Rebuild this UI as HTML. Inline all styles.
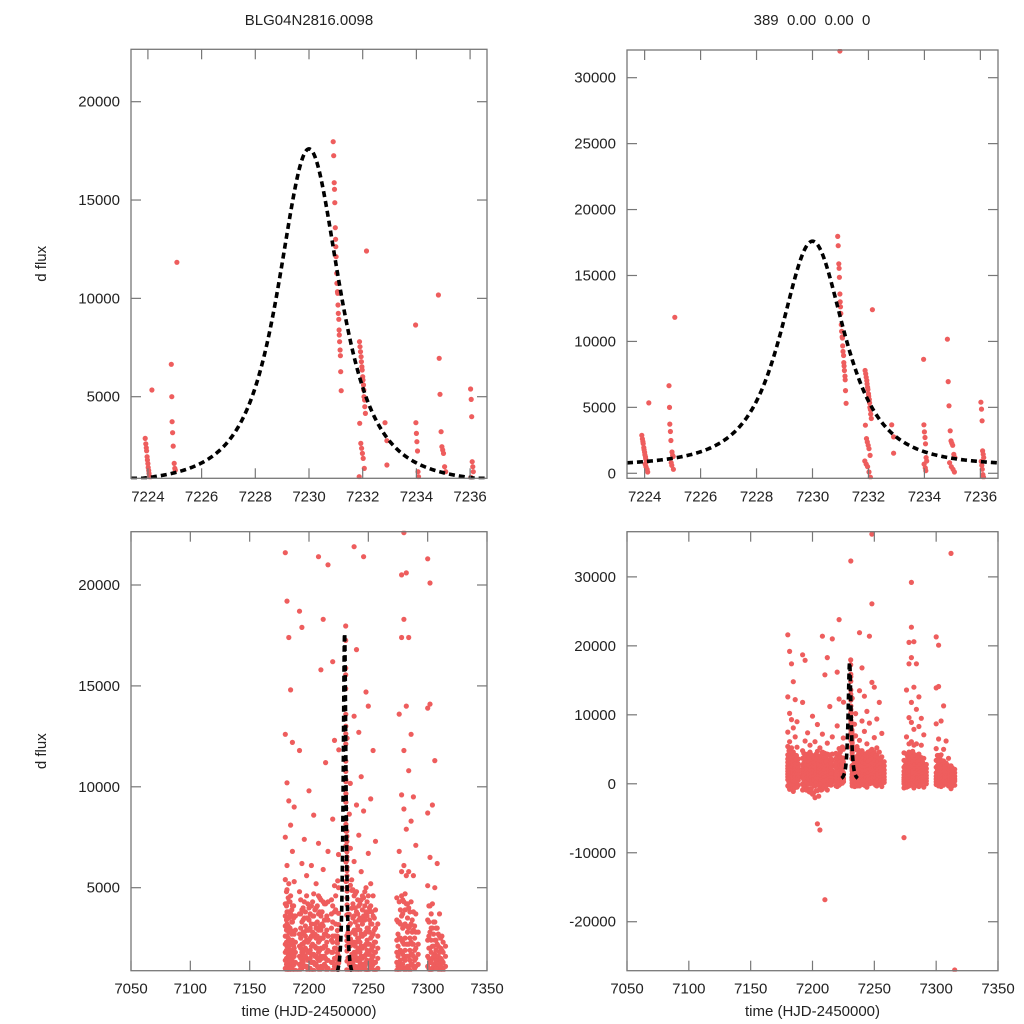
<!DOCTYPE html>
<html><head><meta charset="utf-8">
<style>
html,body{margin:0;padding:0;background:#fff;}
svg{display:block;font-family:"Liberation Sans",Arial,sans-serif;}
</style></head>
<body>
<svg id="fig" width="1024" height="1024" viewBox="0 0 1024 1024" xmlns="http://www.w3.org/2000/svg">
<rect width="1024" height="1024" fill="#fff"/>
<text x="309" y="25" font-size="15" text-anchor="middle" fill="#222">BLG04N2816.0098</text>
<text x="812" y="25" font-size="15" text-anchor="middle" fill="#222" xml:space="preserve">389  0.00  0.00  0</text>
</svg>
<script>
// ---- event-season data (time, flux) ----
const evT = [
7223.90,7223.92,7223.94,7223.95,7223.97,7223.98,7224.00,7224.01,7224.03,7224.04,7224.06,7224.08,7224.15,7224.02,7224.05,7224.09,7224.11,
7224.87,7224.89,7224.90,7224.92,7224.94,7224.98,7225.00,7225.08,7225.02,7224.95,7224.97,7225.03,
7230.98,
7230.90,7230.92,7230.94,7230.95,7230.96,7230.98,7230.99,7231.00,7231.01,7231.03,7231.04,7231.06,7231.07,7231.08,7231.09,7231.11,7231.12,7231.13,7231.14,7231.16,7231.17,7231.18,7231.20,
7232.14,
7231.88,7231.90,7231.92,7231.94,7231.95,7231.97,7231.98,7232.00,7232.01,7232.03,7232.04,7232.05,7232.07,7232.08,7232.10,7231.89,7231.93,7231.96,7231.99,7232.02,7232.06,7231.87,7231.92,7231.97,7232.02,7232.07,
7232.83,7232.90,7232.90,
7233.97,7233.98,7234.00,7234.02,7234.04,7234.06,7234.08,7233.99,7234.03,7234.05,7234.10,
7234.82,7234.85,7234.88,7234.92,7234.95,7234.98,7235.01,7235.05,7235.09,7234.90,7234.96,7235.02,7235.07,
7236.02,7236.04,7236.06,7236.08,7236.10,7236.12,7236.03,7236.05,7236.07,7236.09,7236.11
];
const evF = [
2880,2600,2400,2250,1950,1780,1600,1400,1250,1100,950,900,5340,700,500,300,100,
6645,5000,3730,3170,2490,1611,1360,11832,1270,800,600,300,
32300,
17968,17256,15883,15544,14866,13595,13001,12628,12120,11272,10764,10340,10256,9662,9238,8933,8391,8137,7798,7374,7086,6272,5306,
12408,
7798,7544,7290,7035,6781,6527,6357,6018,5849,5594,5340,5000,4831,4492,4153,3645,2628,2374,2119,1865,1356,933,700,500,100,-300,
3679,2763,1526,
8645,3679,3136,2712,2238,1188,933,700,400,200,-400,
10170,6950,5120,3222,2458,2289,2119,1441,1188,800,500,300,100,
5390,4865,3984,1696,1441,1188,900,600,300,-100,-300
];
// ---- full-season nightly data ----
const nightT = [7180,7181.5,7183,7184.5,7186,7187.5,7192,7194,7196,7198,7200,7202,7204,7206,7208,7210,7212,7214,7216,7220,7221.5,
7238,7240,7242,7244,7246,7248,7250,7252,7254,7256,
7274,7276,7278,7280,7282,7284,7286,7288,7290,7300,7302,7304,7306,7308,7310,7312,7315];
const nightF = [
[21600,12600,7500,5400,4200,3600,3100,2600,2200,1800,1400,1000,600,-300],
[19200,10200,6100,4900,3800,3200,2600,2100,1800,1300,900,200,-800],
[17400,9300,5200,4300,3500,2800,2100,1700,1300,900,500,-600],
[14800,8100,4600,3700,2900,2300,1700,1300,1000,600,100,-1100],
[12200,6800,4100,3300,2400,1900,1500,1100,700,-200],
[9000,5300,3600,2700,2000,1600,1200,800,400,-500],
[18700,11800,4800,3700,2700,2100,1600,1200,900,0,-900],
[17900,6200,3900,3300,2700,2200,1800,1300,1000,600,-400],
[7400,4300,3500,2800,2300,1900,1500,1100,300,-700],
[5600,4600,3500,2900,2400,1900,1500,1100,800,0,-1200],
[9800,4000,3400,2900,2400,1800,1400,1000,200,-1500],
[6100,4100,3200,2600,2100,1700,1300,900,500,-300,-2000],
[8600,4700,3600,2600,2100,1700,1300,900,100,-1000,-5800],
[5200,4000,3000,2500,2000,1600,1200,800,400,-600,-6700],
[21400,7200,4600,3700,2900,2300,1800,1400,1000,600,-800],
[15800,4400,3600,2900,2500,2000,1600,1100,700,-200,-16800],
[18300,5900,4300,3100,2500,2000,1600,1100,700,300,-900],
[11200,4200,3400,2700,2100,1500,1100,800,-100],
[21000,6800,4300,3400,2600,1900,1400,1000,600,200],
[16200,8400,4100,3300,2600,2300,1800,1300,900,500,-400],
[23800,12300,5100,3800,2600,2000,1500,1100,700,-200],
[21900,13500,6300,4600,3600,2900,2300,1800,1400,1000,600,-300],
[16800,9100,4800,3800,2900,2300,1800,1400,900,500,100],
[12700,7600,4100,3400,2500,2000,1500,1100,700,-200],
[10500,5800,4400,3400,2700,2100,1600,1200,800,400,-500],
[21400,8800,4500,3600,2700,2100,1600,1200,800,0],
[36200,26100,14700,5000,3800,2800,2200,1700,1300,900,500,100],
[14000,6700,4600,3800,3000,2200,1700,1300,900,500],
[9400,5200,4100,3200,2500,1900,1400,1000,600,300,-300],
[11800,4600,3600,2700,2100,1600,1200,800,400,100],
[7300,3900,3000,2300,1800,1300,900,600,-400],
[4500,3400,2400,1800,1300,900,600,300,0,-600,-7800],
[13600,6800,4300,3300,2500,1800,1300,900,500,200,-500],
[20500,17400,9600,5800,4600,3600,2400,1800,1200,800,400,-300],
[29200,22700,18300,11800,8900,6100,4300,3100,2200,1500,1000,600,-200],
[20600,14000,7900,5600,4200,3100,2200,1600,1000,600,300,-600],
[17400,10800,5800,4000,3000,2200,1600,1100,700,-100],
[12600,8300,4300,3200,2300,1700,1200,800,400,-400],
[9500,5600,3800,2900,2200,1600,1100,700,300,0],
[7100,3700,2800,2000,1500,1100,600,300,-500],
[21300,13900,8700,5100,3400,2400,1600,1100,700,300,-100],
[20100,14100,6500,4100,2800,2000,1300,900,500,100,-300],
[9100,4200,3000,2100,1500,1000,600,300,-400],
[11300,5000,3300,2400,1700,1200,800,500,-200],
[6200,3000,2200,1500,1100,700,400,100],
[3700,2600,1800,1300,900,600,300,-300],
[33400,2600,1900,1400,1000,600,300,0,-700],
[2100,1600,1100,700,400,-200,-27000]
];
// ---- extra low-flux nights filling the seasons ----
const fillT = [7181,7182.5,7184,7185.5,7187,7188.5,7193,7195,7197,7199,7201,7203,7205,7207,7209,7211,7213,7215,7219,7222.5,
7237,7239,7241,7243,7245,7247,7249,7251,7253,7255,7258,
7275,7277,7279,7281,7283,7285,7287,7289,7292,7301,7303,7305,7307,7309,7311,7313];
const fillF = [
[4800,4100,3400,2900,2300,1900,1500,1200,700,200,-500],
[4500,3800,3100,2500,2000,1600,1100,600,-100],
[4300,3600,3000,2400,1900,1400,1000,500,-300],
[3900,3300,2700,2200,1800,1300,900,400,-600],
[4100,3500,2800,2100,1700,1200,800,300],
[3600,2900,2300,1800,1300,900,500,-200],
[4400,3700,3000,2500,2000,1500,1100,600,-400],
[4000,3400,2800,2200,1700,1300,800,200,-900],
[3800,3100,2600,2000,1600,1100,700,0,-1100],
[4200,3500,2900,2300,1800,1400,900,400,-700],
[3700,3000,2500,1900,1500,1000,600,-100,-1300],
[4300,3600,2800,2200,1700,1300,800,200,-1000],
[3900,3200,2700,2100,1600,1200,700,-200,-1800],
[4100,3300,2600,2000,1500,1100,600,0,-900],
[4500,3800,3100,2400,1900,1400,900,400,-500],
[3800,3200,2500,2000,1500,1000,500,-300],
[4200,3400,2700,2100,1600,1200,700,200],
[3600,2900,2300,1800,1400,900,400,-200],
[4400,3700,3000,2400,1800,1300,800,300,-300],
[4600,3900,3200,2600,2000,1500,1000,500,0],
[4900,4200,3500,2800,2200,1700,1200,800,300,-200],
[4700,4000,3300,2700,2100,1600,1100,600,100],
[4400,3700,3100,2500,1900,1400,1000,500,-100],
[4200,3500,2900,2300,1800,1300,900,400,-300],
[4600,3900,3200,2600,2000,1500,1000,600,0],
[4800,4100,3400,2700,2100,1600,1100,700,200],
[4300,3600,3000,2400,1900,1400,900,400],
[4000,3400,2800,2200,1700,1200,800,300,-200],
[3800,3200,2600,2000,1500,1100,600,100],
[3500,2900,2300,1800,1300,900,400,-100],
[3200,2600,2000,1500,1000,600,200],
[3300,2700,2100,1600,1100,700,300,-200],
[3900,3200,2500,1900,1400,1000,500,0,-400],
[4400,3700,3000,2300,1700,1200,700,300,-100],
[4700,3900,3200,2500,1900,1400,900,400,0],
[4200,3500,2800,2200,1600,1100,700,200,-300],
[3800,3100,2500,1900,1400,900,500,100],
[3400,2800,2200,1700,1200,800,400,-200],
[3100,2500,1900,1400,1000,600,200],
[2800,2200,1700,1200,800,400,0],
[4100,3300,2600,2000,1500,1000,500,100],
[3700,3000,2400,1800,1300,900,400,-100],
[3300,2700,2100,1600,1100,700,300,-200],
[3000,2400,1900,1400,1000,600,200],
[2700,2100,1600,1200,800,400,0],
[2500,2000,1500,1100,700,300,-100],
[2300,1800,1300,900,500,200,-300]
];
// ---- model parameters (fit) ----
const modelT0 = 7230, modelPeak = 17100, modelBase = 500, modelW = 1.77, modelP = 1.5;
// ---- axis tick labels ----
const ticksXTop = [7224,7226,7228,7230,7232,7234,7236];
const ticksXBot = [7050,7100,7150,7200,7250,7300,7350];
const ticksYTL = [5000,10000,15000,20000];
const ticksYTR = [0,5000,10000,15000,20000,25000,30000];
const ticksYBL = [5000,10000,15000,20000];
const ticksYBR = [-20000,-10000,0,10000,20000,30000];

const NS = "http://www.w3.org/2000/svg";
const svg = document.getElementById('fig');
function mk(tag, attrs, parent){
  const e = document.createElementNS(NS, tag);
  for (const k in attrs) e.setAttribute(k, attrs[k]);
  (parent||svg).appendChild(e);
  return e;
}
function model(t){ const d=(t-modelT0)/modelW; return modelBase + modelPeak/Math.pow(1+d*d, modelP); }

const panels = [
 {id:'top-left', x0:131,x1:487,y0:49.3,y1:478.3, tmin:7223.37,tmax:7236.63, fmin:851,fmax:22664, xt:ticksXTop, yt:ticksYTL, ylab:true, xlab:false},
 {id:'top-right', x0:627,x1:998,y0:50,y1:478.3, tmin:7223.37,tmax:7236.63, fmin:-380,fmax:32100, xt:ticksXTop, yt:ticksYTR, ylab:false, xlab:false},
 {id:'bottom-left', x0:131,x1:487,y0:531.7,y1:970.7, tmin:7050,tmax:7350, fmin:887,fmax:22641, xt:ticksXBot, yt:ticksYBL, ylab:true, xlab:true},
 {id:'bottom-right', x0:627,x1:998,y0:531.7,y1:970.7, tmin:7050,tmax:7350, fmin:-27100,fmax:36550, xt:ticksXBot, yt:ticksYBR, ylab:false, xlab:true}
];

panels.forEach((p,i)=>{
  const sx = t => p.x0 + (t-p.tmin)/(p.tmax-p.tmin)*(p.x1-p.x0);
  const sy = f => p.y1 - (f-p.fmin)/(p.fmax-p.fmin)*(p.y1-p.y0);
  const g = mk('g',{});
  
  
  const cp = mk('clipPath',{id:'clip'+i}, g);
  mk('rect',{x:p.x0,y:p.y0-1,width:p.x1-p.x0,height:p.y1-p.y0+2}, cp);
  const dots = mk('g',{'clip-path':'url(#clip'+i+')', fill:'#ee5d5d'}, g);
  
  
  function dot(t,f){
    if (t<p.tmin-1||t>p.tmax+1||f<p.fmin||f>p.fmax+300) return;
    const c = mk('circle',{cx:sx(t).toFixed(1), cy:Math.max(p.y0+1,sy(f)).toFixed(1), r:2.6}, dots);
    
    
  }
  nightT.forEach((t,k)=>nightF[k].forEach(f=>dot(t,f)));
  fillT.forEach((t,k)=>fillF[k].forEach(f=>dot(t,f)));
  evT.forEach((t,k)=>dot(evT[k],evF[k]));
  // model curve
  let d='';
  const n = 400;
  for (let k=0;k<=n;k++){
    const t = 7223.37 + (7236.63-7223.37)*k/n;
    const f = model(t);
    d += (k?'L':'M') + sx(t).toFixed(2)+','+Math.min(p.y1, sy(f)).toFixed(2);
  }
  const ml = mk('path',{d:d, fill:'none', stroke:'#000', 'stroke-width':3.6, 'stroke-dasharray':'6 4', 'clip-path':'url(#clip'+i+')'}, g);
  
  
  // frame
  const fr = mk('rect',{x:p.x0,y:p.y0,width:p.x1-p.x0,height:p.y1-p.y0,fill:'none',stroke:'#777','stroke-width':1.3}, g);
  
  
  p.xt.forEach(v=>{
    const x = sx(v);
    mk('line',{x1:x,x2:x,y1:p.y1,y2:p.y1-10,stroke:'#777','stroke-width':1.2}, g);
    mk('line',{x1:x,x2:x,y1:p.y0,y2:p.y0+10,stroke:'#777','stroke-width':1.2}, g);
    const tx = mk('text',{x:x,y:p.y1+23,'font-size':15,'text-anchor':'middle',fill:'#222'}, g);
    tx.textContent = v;
    
    
  });
  p.yt.forEach(v=>{
    const y = sy(v);
    mk('line',{x1:p.x0,x2:p.x0+10,y1:y,y2:y,stroke:'#777','stroke-width':1.2}, g);
    mk('line',{x1:p.x1,x2:p.x1-10,y1:y,y2:y,stroke:'#777','stroke-width':1.2}, g);
    const ty = mk('text',{x:p.x0-11,y:y+5,'font-size':15,'text-anchor':'end',fill:'#222'}, g);
    ty.textContent = v;
    
    
  });
  if (p.ylab){
    const cy = (p.y0+p.y1)/2;
    const yl = mk('text',{x:46,y:cy,'font-size':15,'text-anchor':'middle',fill:'#222',transform:'rotate(-90 46 '+cy+')'}, g);
    yl.textContent = 'd flux';
    
    
  }
  if (p.xlab){
    const xl = mk('text',{x:(p.x0+p.x1)/2,y:1016,'font-size':15,'text-anchor':'middle',fill:'#222'}, g);
    xl.textContent = 'time (HJD-2450000)';
    
    
  }
});
</script>
</body></html>
